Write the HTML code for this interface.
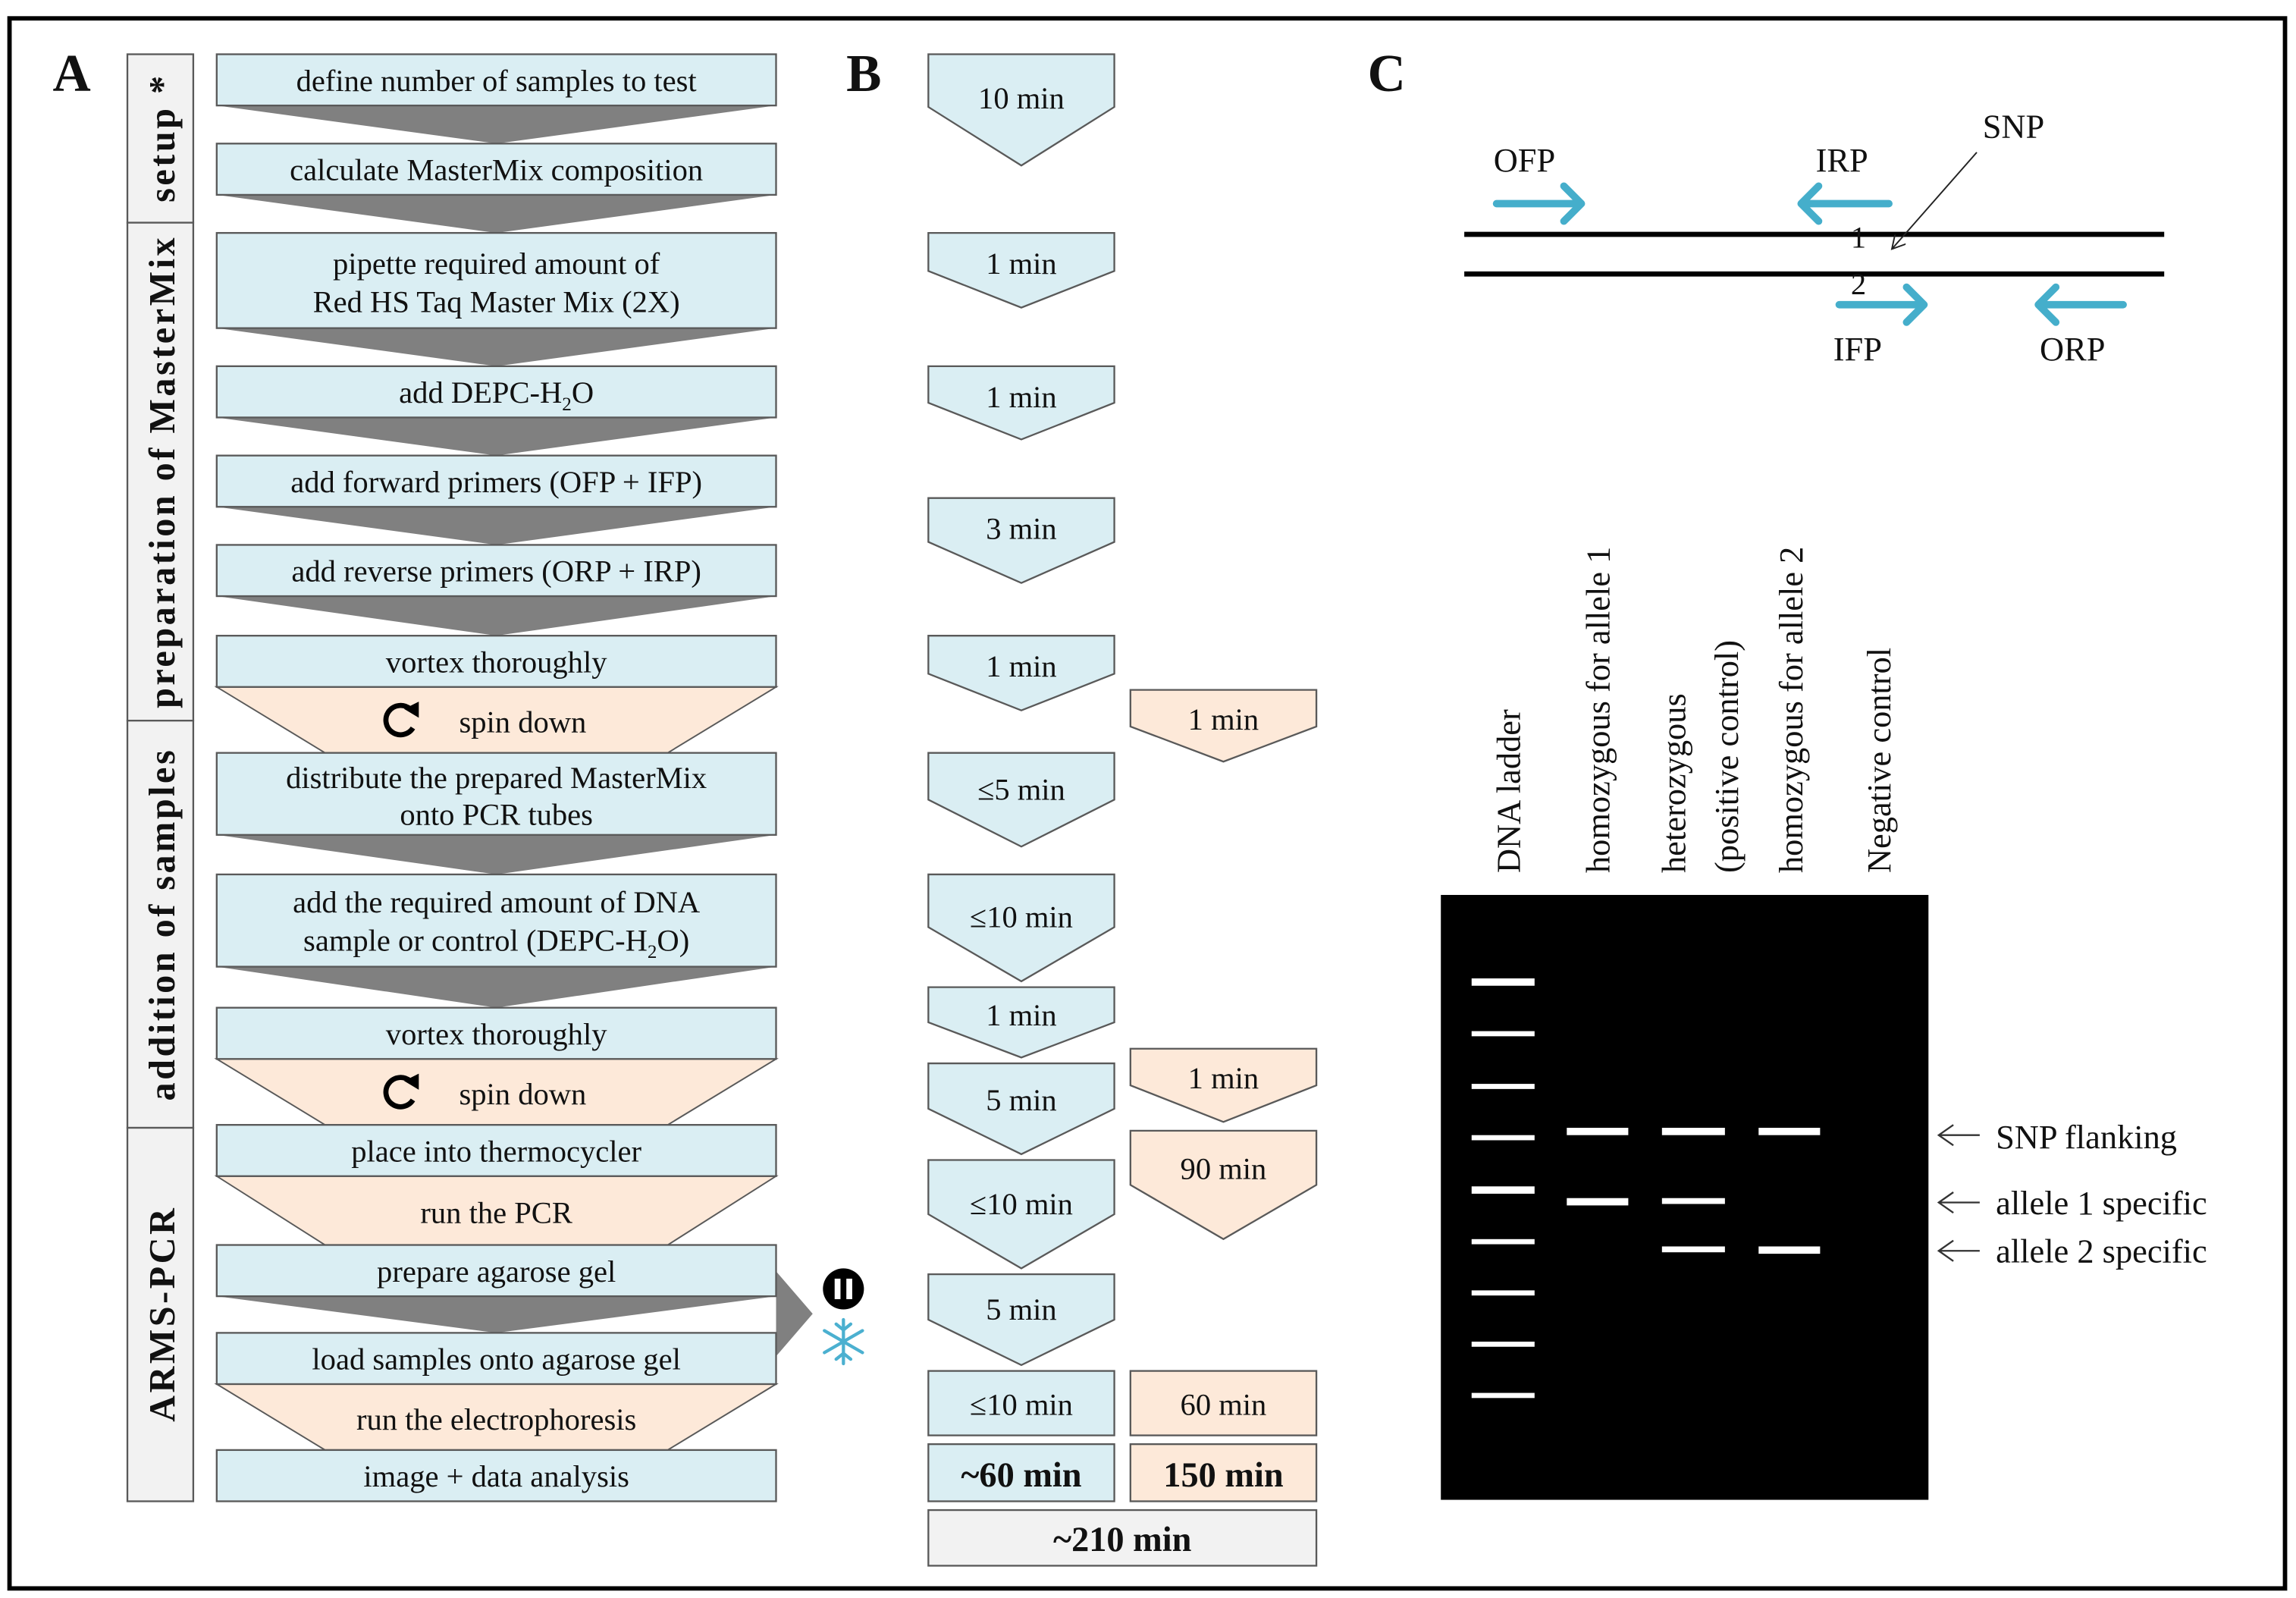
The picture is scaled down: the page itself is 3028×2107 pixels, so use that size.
<!DOCTYPE html>
<html><head><meta charset="utf-8"><style>
html,body{margin:0;padding:0;background:#fff}
svg{display:block}
text{font-family:"Liberation Serif",serif;fill:#111}
</style></head><body>
<svg width="3028" height="2107" viewBox="0 0 1568 1091" xmlns="http://www.w3.org/2000/svg">
<defs>
<marker id="ah" markerWidth="10" markerHeight="10" refX="9" refY="5" orient="auto" markerUnits="userSpaceOnUse"><path d="M0,0 L9,5 L0,10" fill="none" stroke="#222" stroke-width="1"/></marker>
</defs>
<rect x="6.5" y="12.5" width="1554" height="1072" fill="#fff" stroke="#000" stroke-width="3"/>
<text x="36" y="62" font-size="36" font-weight="bold">A</text>
<text x="578" y="62" font-size="36" font-weight="bold">B</text>
<text x="934" y="62" font-size="36" font-weight="bold">C</text>

<!-- sidebar -->
<g fill="#f2f2f2" stroke="#595959" stroke-width="1.2">
<rect x="87" y="37" width="45" height="115"/>
<rect x="87" y="152" width="45" height="340"/>
<rect x="87" y="492" width="45" height="278"/>
<rect x="87" y="770" width="45" height="255"/>
</g>
<g font-weight="bold" font-size="25" text-anchor="middle" letter-spacing="1.8">
<text transform="translate(119,94) rotate(-90)">setup *</text>
<text transform="translate(119,322) rotate(-90)">preparation of MasterMix</text>
<text transform="translate(119,631) rotate(-90)">addition of samples</text>
<text transform="translate(119,897) rotate(-90)">ARMS-PCR</text>
</g>

<!-- grey arrows -->
<g fill="#808080">
<polygon points="148,72 530,72 339,98"/>
<polygon points="148,133 530,133 339,159"/>
<polygon points="148,224 530,224 339,250"/>
<polygon points="148,285 530,285 339,311"/>
<polygon points="148,346 530,346 339,372"/>
<polygon points="148,407 530,407 339,434"/>
<polygon points="148,570 530,570 339,597"/>
<polygon points="148,660 530,660 339,688"/>
<polygon points="148,885 530,885 339,910"/>
<polygon points="530,868 555,897 530,926"/>
</g>
<!-- orange trapezoids -->
<g fill="#fde9d9" stroke="#595959" stroke-width="1">
<polygon points="148,469 530,469 456,514 222,514"/>
<polygon points="148,723 530,723 456,768 222,768"/>
<polygon points="148,803 530,803 456,850 222,850"/>
<polygon points="148,945 530,945 456,990 222,990"/>
</g>
<!-- blue boxes -->
<g fill="#daeef3" stroke="#595959" stroke-width="1.2">
<rect x="148" y="37" width="382" height="35"/>
<rect x="148" y="98" width="382" height="35"/>
<rect x="148" y="159" width="382" height="65"/>
<rect x="148" y="250" width="382" height="35"/>
<rect x="148" y="311" width="382" height="35"/>
<rect x="148" y="372" width="382" height="35"/>
<rect x="148" y="434" width="382" height="35"/>
<rect x="148" y="514" width="382" height="56"/>
<rect x="148" y="597" width="382" height="63"/>
<rect x="148" y="688" width="382" height="35"/>
<rect x="148" y="768" width="382" height="35"/>
<rect x="148" y="850" width="382" height="35"/>
<rect x="148" y="910" width="382" height="35"/>
<rect x="148" y="990" width="382" height="35"/>
</g>
<g font-size="21" text-anchor="middle">
<text x="339" y="62">define number of samples to test</text>
<text x="339" y="123">calculate MasterMix composition</text>
<text x="339" y="187">pipette required amount of</text>
<text x="339" y="213">Red HS Taq Master Mix (2X)</text>
<text x="339" y="275">add DEPC-H<tspan font-size="13" dy="5">2</tspan><tspan dy="-5">O</tspan></text>
<text x="339" y="336">add forward primers (OFP + IFP)</text>
<text x="339" y="397">add reverse primers (ORP + IRP)</text>
<text x="339" y="459">vortex thoroughly</text>
<text x="357" y="500">spin down</text>
<text x="339" y="538">distribute the prepared MasterMix</text>
<text x="339" y="563">onto PCR tubes</text>
<text x="339" y="623">add the required amount of DNA</text>
<text x="339" y="649">sample or control (DEPC-H<tspan font-size="13" dy="5">2</tspan><tspan dy="-5">O)</tspan></text>
<text x="339" y="713">vortex thoroughly</text>
<text x="357" y="754">spin down</text>
<text x="339" y="793">place into thermocycler</text>
<text x="339" y="835">run the PCR</text>
<text x="339" y="875">prepare agarose gel</text>
<text x="339" y="935">load samples onto agarose gel</text>
<text x="339" y="976">run the electrophoresis</text>
<text x="339" y="1015">image + data analysis</text>
</g>
<!-- spin icons -->
<g fill="none" stroke="#000" stroke-width="3.5">
<path d="M280,484 A10,10 0 1,0 282,497"/>
<path d="M280,738 A10,10 0 1,0 282,751"/>
</g>
<polygon points="276,484 286,479 286,490" fill="#000"/>
<polygon points="276,738 286,733 286,744" fill="#000"/>
<!-- pause + snowflake -->
<circle cx="576" cy="880" r="14" fill="#000"/>
<rect x="570" y="873" width="4" height="14" fill="#fff"/>
<rect x="578" y="873" width="4" height="14" fill="#fff"/>
<g stroke="#4bb0d0" stroke-width="2.2" stroke-linecap="round">
<line x1="576" y1="901" x2="576" y2="931"/>
<line x1="563" y1="908.5" x2="589" y2="923.5"/>
<line x1="563" y1="923.5" x2="589" y2="908.5"/>
<path d="M571,904 L576,908 L581,904 M571,928 L576,924 L581,928" fill="none"/>
</g>

<!-- B column -->
<g stroke="#595959" stroke-width="1.2">
<g fill="#daeef3">
<polygon points="634,37 761,37 761,73 697.5,113 634,73"/>
<polygon points="634,159 761,159 761,185 697.5,210 634,185"/>
<polygon points="634,250 761,250 761,275 697.5,300 634,275"/>
<polygon points="634,340 761,340 761,370 697.5,398 634,370"/>
<polygon points="634,434 761,434 761,460 697.5,485 634,460"/>
<polygon points="634,514 761,514 761,546 697.5,578 634,546"/>
<polygon points="634,597 761,597 761,633 697.5,670 634,633"/>
<polygon points="634,674 761,674 761,698 697.5,722 634,698"/>
<polygon points="634,726 761,726 761,757 697.5,788 634,757"/>
<polygon points="634,792 761,792 761,829 697.5,866 634,829"/>
<polygon points="634,870 761,870 761,901 697.5,932 634,901"/>
<rect x="634" y="936" width="127" height="44"/>
<rect x="634" y="986" width="127" height="39"/>
</g>
<g fill="#fde9d9">
<polygon points="772,471 899,471 899,496 835.5,520 772,496"/>
<polygon points="772,716 899,716 899,741 835.5,766 772,741"/>
<polygon points="772,772 899,772 899,809 835.5,846 772,809"/>
<rect x="772" y="936" width="127" height="44"/>
<rect x="772" y="986" width="127" height="39"/>
</g>
<rect x="634" y="1031" width="265" height="38" fill="#f2f2f2"/>
</g>
<g font-size="21" text-anchor="middle">
<text x="697.5" y="74">10 min</text>
<text x="697.5" y="187">1 min</text>
<text x="697.5" y="278">1 min</text>
<text x="697.5" y="368">3 min</text>
<text x="697.5" y="462">1 min</text>
<text x="835.5" y="498">1 min</text>
<text x="697.5" y="546">≤5 min</text>
<text x="697.5" y="633">≤10 min</text>
<text x="697.5" y="700">1 min</text>
<text x="697.5" y="758">5 min</text>
<text x="835.5" y="743">1 min</text>
<text x="835.5" y="805">90 min</text>
<text x="697.5" y="829">≤10 min</text>
<text x="697.5" y="901">5 min</text>
<text x="697.5" y="966">≤10 min</text>
<text x="835.5" y="966">60 min</text>
<text x="697.5" y="1015" font-size="24" font-weight="bold">~60 min</text>
<text x="835.5" y="1015" font-size="24" font-weight="bold">150 min</text>
<text x="766.5" y="1059" font-size="24" font-weight="bold">~210 min</text>
</g>

<!-- C top -->
<line x1="1000" y1="160" x2="1478" y2="160" stroke="#000" stroke-width="3.5"/>
<line x1="1000" y1="187" x2="1478" y2="187" stroke="#000" stroke-width="3.5"/>
<g fill="none" stroke="#45aecb" stroke-width="5" stroke-linecap="round" stroke-linejoin="round">
<path d="M1022,139 H1080 M1068,127 L1080,139 L1068,151"/>
<path d="M1290,139 H1230 M1242,127 L1230,139 L1242,151"/>
<path d="M1256,208 H1314 M1302,196 L1314,208 L1302,220"/>
<path d="M1450,208 H1392 M1404,196 L1392,208 L1404,220"/>
</g>
<g font-size="23">
<text x="1020" y="117">OFP</text>
<text x="1240" y="117">IRP</text>
<text x="1354" y="94">SNP</text>
<text x="1264" y="169" font-size="21">1</text>
<text x="1264" y="201" font-size="21">2</text>
<text x="1252" y="246">IFP</text>
<text x="1393" y="246">ORP</text>
</g>
<line x1="1350" y1="104" x2="1292" y2="170" stroke="#222" stroke-width="1" marker-end="url(#ah)"/>

<!-- gel -->
<rect x="984" y="611" width="333" height="413" fill="#000"/>
<g fill="#fff">
<rect x="1005" y="668" width="43" height="5"/>
<rect x="1005" y="704" width="43" height="3.5"/>
<rect x="1005" y="740" width="43" height="3.5"/>
<rect x="1005" y="775" width="43" height="3.5"/>
<rect x="1005" y="810" width="43" height="5"/>
<rect x="1005" y="846" width="43" height="3.5"/>
<rect x="1005" y="881" width="43" height="3.5"/>
<rect x="1005" y="916" width="43" height="3.5"/>
<rect x="1005" y="951" width="43" height="3.5"/>
<rect x="1070" y="770" width="42" height="5"/>
<rect x="1070" y="818" width="42" height="5"/>
<rect x="1135" y="770" width="43" height="5"/>
<rect x="1135" y="818" width="43" height="4"/>
<rect x="1135" y="851" width="43" height="4"/>
<rect x="1201" y="770" width="42" height="5"/>
<rect x="1201" y="851" width="42" height="5"/>
</g>
<g font-size="23">
<text transform="translate(1038,596) rotate(-90)">DNA ladder</text>
<text transform="translate(1099,596) rotate(-90)">homozygous for allele 1</text>
<text transform="translate(1151,596) rotate(-90)">heterozygous</text>
<text transform="translate(1187,596) rotate(-90)">(positive control)</text>
<text transform="translate(1231,596) rotate(-90)">homozygous for allele 2</text>
<text transform="translate(1291,596) rotate(-90)">Negative control</text>
<text x="1363" y="784">SNP flanking</text>
<text x="1363" y="829">allele 1 specific</text>
<text x="1363" y="862">allele 2 specific</text>
</g>
<g stroke="#333" stroke-width="1.2" fill="none">
<path d="M1352,775 H1324 M1334,768 L1324,775 L1334,782"/>
<path d="M1352,821 H1324 M1334,814 L1324,821 L1334,828"/>
<path d="M1352,854 H1324 M1334,847 L1324,854 L1334,861"/>
</g>
</svg>
</body></html>
